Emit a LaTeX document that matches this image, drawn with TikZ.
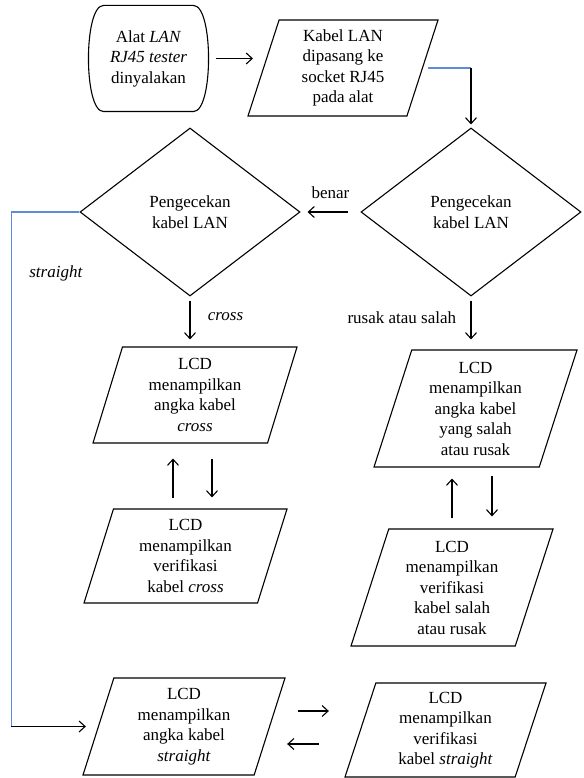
\documentclass[tikz,border=0pt]{standalone}
\usepackage{fontspec}
\setmainfont{Liberation Serif}
\usepackage{tikz}
\usetikzlibrary{arrows.meta, shapes.geometric}
\definecolor{lineblue}{RGB}{91,139,217}

\tikzset{
  base/.style={draw, line width=1.1pt, inner sep=0pt, align=center, font=\fontsize{17}{20.5}\selectfont},
  term/.style={base, draw=none, rectangle, minimum width=117pt, minimum height=105pt},
  io/.style={base, trapezium, trapezium left angle=68, trapezium right angle=112, trapezium stretches body, minimum height=#1},
  cek/.style={base, diamond, minimum width=220pt, minimum height=168pt},
  arr/.style={->, line width=1.1pt},
  blueln/.style={lineblue, line width=1.2pt},
  lbl/.style={text=black, font=\fontsize{17}{20.5}\selectfont}
}

\begin{document}
\begin{tikzpicture}[x=1pt, y=-1pt, >={Straight Barb[length=6pt,width=11pt]}]
  \useasboundingbox (0,0) rectangle (583,778);
  % mulai
  \node[term] (mulai) at (148.5,58.5) {Alat \textit{LAN}\\\textit{RJ45 tester}\\dinyalakan};
  \draw[line width=1.1pt] ([xshift=14pt]mulai.north west) -- ([xshift=-14pt]mulai.north east)
    .. controls ([xshift=6pt]mulai.north east) and ([xshift=6pt]mulai.south east) .. ([xshift=-14pt]mulai.south east)
    -- ([xshift=14pt]mulai.south west)
    .. controls ([xshift=-6pt]mulai.south west) and ([xshift=-6pt]mulai.north west) .. cycle;
  \node[io=96pt, minimum width=190pt] (pasang) at (343,68) {Kabel LAN\\dipasang ke\\socket RJ45\\pada alat};
  % pengecekan
  \node[cek] (cekkanan) at (471,212) {Pengecekan\\kabel LAN};
  \node[cek] (cekkiri) at (190,212) {Pengecekan\\kabel LAN};
  % cross
  \node[io=96pt, minimum width=204pt] (lcdcross) at (195,395) {LCD\\menampilkan\\angka kabel\\\textit{cross}};
  \node[io=94pt, minimum width=203pt] (vercross) at (185.5,556) {LCD\\menampilkan\\verifikasi\\kabel \textit{cross}};
  % rusak atau salah
  \node[io=117pt, minimum width=203pt] (lcdrusak) at (475.5,408.5) {LCD\\menampilkan\\angka kabel\\yang salah\\atau rusak};
  \node[io=117pt, minimum width=202pt] (verrusak) at (452,587.5) {LCD\\menampilkan\\verifikasi\\kabel salah\\atau rusak};
  % straight
  \node[io=97pt, minimum width=202pt] (lcdstr) at (184,726.5) {LCD\\menampilkan\\angka kabel\\\textit{straight}};
  \node[io=94pt, minimum width=201pt] (verstr) at (445.5,730) {LCD\\menampilkan\\verifikasi\\kabel \textit{straight}};

  % alur atas
  \draw[arr, shorten <=8pt, shorten >=10pt] (mulai.east) -- (mulai.east -| pasang.west);
  \draw[blueln, shorten <=5pt] (pasang.east) -- (pasang.east -| cekkanan.north);
  \draw[arr, shorten >=3pt] (pasang.east -| cekkanan.north) -- (cekkanan.north);
  \draw[arr, shorten <=12pt, shorten >=7pt] (cekkanan.west) -- node[lbl, above=9pt]{benar} (cekkiri.east);
  % cabang
  \draw[arr, shorten <=4pt, shorten >=7pt] (cekkiri.south) -- node[lbl, pos=0.4, right=14pt]{\textit{cross}} (cekkiri.south |- lcdcross.north);
  \draw[arr, shorten <=4pt, shorten >=10pt] (cekkanan.south) -- node[lbl, pos=0.4, left=11pt]{rusak atau salah} (cekkanan.south |- lcdrusak.north);
  \coordinate (s1) at ([xshift=-68pt]cekkiri.west);
  \coordinate (s2) at (s1 |- lcdstr.west);
  \draw[blueln] (cekkiri.west) -- (s1) -- node[lbl, pos=0.12, right=14pt]{\textit{straight}} (s2);
  \draw[arr, shorten >=12pt] (s2) -- (lcdstr.west);
  % bolak-balik
  \coordinate (c1) at ([xshift=-22pt]lcdcross.south);
  \coordinate (c2) at ([xshift=17pt]lcdcross.south);
  \draw[arr, shorten <=10pt, shorten >=15pt] (c1 |- vercross.north) -- (c1);
  \draw[arr, shorten <=15pt, shorten >=11pt] (c2) -- (c2 |- vercross.north);
  \coordinate (r1) at ([xshift=-23.5pt]lcdrusak.south);
  \coordinate (r2) at ([xshift=16.5pt]lcdrusak.south);
  \draw[arr, shorten <=10pt, shorten >=11pt] (r1 |- verrusak.north) -- (r1);
  \draw[arr, shorten <=8pt, shorten >=12pt] (r2) -- (r2 |- verrusak.north);
  \coordinate (t1) at ([yshift=15.5pt]lcdstr.east);
  \coordinate (t2) at ([yshift=-17.5pt]lcdstr.east);
  \draw[arr, shorten <=28pt, shorten >=31pt] (t1) -- (t1 -| verstr.west);
  \draw[arr, shorten <=41pt, shorten >=17pt] (t2 -| verstr.west) -- (t2);
\end{tikzpicture}
\end{document}
